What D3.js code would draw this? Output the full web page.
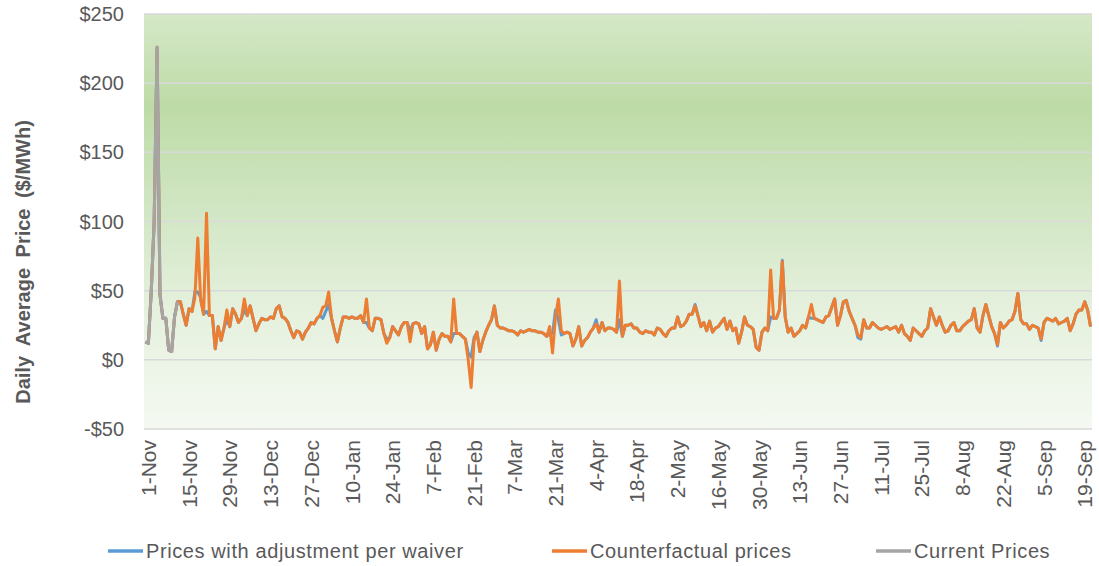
<!DOCTYPE html>
<html>
<head>
<meta charset="utf-8">
<script src="https://cdnjs.cloudflare.com/ajax/libs/d3/7.8.5/d3.min.js"></script>
<style>
  body { margin: 0; background: #fff; }
  svg text { font-family: "Liberation Sans", Arial, sans-serif; fill: #595959; }
</style>
</head>
<body>
<div id="chart"></div>
<script>
// daily categories: 1-Nov onwards, one per day
const startDate = new Date(2016, 10, 1);
const dayCount = 326;
const dates = d3.timeDay.range(startDate, d3.timeDay.offset(startDate, dayCount));

const counterfactual = [
  13, 12, 50, 100, 226, 47, 30, 30, 7, 6, 31, 42, 42, 33, 25, 37, 35, 45, 88, 43,
  33, 106, 32, 32, 8, 24, 14, 23, 36, 24, 37, 33, 27, 30, 44, 32, 39, 30, 21, 26,
  30, 29, 29, 31, 30, 37, 39, 31, 30, 27, 21, 16, 21, 20, 15, 20, 23, 27, 26, 30,
  32, 38, 39, 49, 30, 21, 13, 23, 31, 31, 30, 31, 30, 30, 32, 27, 44, 23, 21, 30,
  30, 29, 19, 12, 16, 24, 21, 18, 24, 27, 27, 13, 26, 27, 26, 19, 24, 8, 11, 20,
  7, 15, 19, 17, 17, 13, 44, 19, 19, 17, 15, 0, -20, 14, 20, 6, 14, 20, 25, 29,
  39, 25, 23, 23, 22, 21, 21, 20, 18, 21, 20, 21, 22, 21, 21, 20, 20, 19, 17, 24,
  5, 31, 44, 21, 19, 20, 19, 10, 15, 24, 10, 14, 16, 20, 23, 26, 20, 27, 21, 23,
  23, 22, 20, 57, 17, 25, 25, 26, 23, 23, 20, 19, 21, 20, 20, 18, 23, 22, 19, 17,
  21, 23, 23, 31, 24, 25, 28, 33, 33, 39, 32, 24, 27, 21, 28, 20, 23, 24, 27, 30,
  22, 28, 21, 23, 12, 20, 31, 25, 24, 22, 9, 7, 20, 23, 21, 65, 30, 30, 36, 71,
  31, 20, 23, 17, 19, 21, 25, 23, 31, 40, 30, 29, 28, 27, 31, 32, 38, 44, 25, 32,
  42, 43, 35, 30, 25, 18, 16, 29, 23, 23, 27, 25, 23, 22, 23, 24, 22, 23, 24, 20,
  25, 19, 17, 14, 23, 21, 19, 17, 21, 23, 37, 31, 25, 31, 25, 20, 21, 25, 27, 21,
  21, 24, 26, 28, 29, 37, 23, 20, 32, 40, 32, 24, 19, 11, 27, 23, 25, 28, 29, 35,
  48, 29, 26, 26, 22, 25, 24, 23, 15, 27, 30, 29, 28, 30, 26, 27, 28, 30, 21, 26,
  33, 36, 36, 42, 36, 24
];

const adjusted = [
  13, 12, 50, 100, 226, 47, 30, 30, 7, 6, 31, 42, 42, 33, 25, 37, 35, 49, 49, 45,
  33, 35, 32, 32, 8, 24, 14, 23, 29, 24, 37, 33, 27, 30, 36, 32, 39, 30, 21, 26,
  30, 29, 29, 31, 30, 37, 39, 31, 30, 27, 21, 16, 21, 20, 15, 20, 23, 27, 26, 30,
  32, 30, 35, 40, 30, 21, 13, 23, 31, 31, 30, 31, 30, 30, 32, 27, 27, 23, 21, 30,
  30, 29, 19, 15, 16, 24, 21, 18, 24, 27, 27, 21, 26, 27, 26, 19, 24, 8, 11, 20,
  7, 15, 19, 17, 17, 13, 19, 19, 19, 17, 15, 5, 2, 16, 20, 6, 14, 20, 25, 29,
  39, 25, 23, 23, 22, 21, 21, 20, 18, 21, 20, 21, 22, 21, 21, 20, 20, 19, 17, 19,
  19, 36, 29, 18, 19, 20, 19, 10, 15, 24, 10, 14, 16, 20, 23, 29, 20, 27, 21, 23,
  23, 22, 20, 29, 17, 25, 25, 26, 23, 23, 20, 19, 21, 20, 20, 18, 23, 22, 19, 17,
  21, 23, 23, 31, 24, 25, 28, 33, 33, 40, 32, 24, 27, 21, 28, 20, 23, 24, 27, 30,
  22, 28, 21, 23, 12, 20, 31, 25, 24, 22, 9, 7, 20, 23, 21, 31, 30, 30, 36, 72,
  31, 20, 23, 17, 19, 21, 25, 23, 31, 30, 30, 29, 28, 27, 31, 32, 38, 44, 25, 32,
  42, 43, 35, 30, 25, 16, 15, 29, 23, 23, 27, 25, 23, 22, 23, 24, 22, 23, 24, 20,
  25, 19, 17, 14, 23, 21, 19, 17, 21, 23, 37, 31, 25, 31, 25, 20, 21, 25, 27, 21,
  21, 24, 26, 28, 29, 37, 23, 20, 32, 40, 32, 24, 19, 10, 27, 23, 25, 28, 29, 35,
  48, 29, 26, 26, 22, 25, 24, 23, 14, 27, 30, 29, 28, 30, 26, 27, 28, 30, 21, 26,
  33, 36, 36, 42, 36, 24
];

// current prices only cover the first days
const current = [13, 12, 50, 100, 226, 47, 30, 30, 7, 6, 31, 42];

const yTicks = [-50, 0, 50, 100, 150, 200, 250];

const series = [
  { name: 'Prices with adjustment per waiver', values: adjusted, color: '#5B9BD5' },
  { name: 'Counterfactual prices', values: counterfactual, color: '#ED7D31' },
  { name: 'Current Prices', values: current, color: '#A5A5A5' }
];

const width = 1099, height = 566;
const margin = { top: 14, right: 7, bottom: 137, left: 144 };

const svg = d3.select('#chart')
  .append('svg')
  .attr('width', width)
  .attr('height', height);

const x = d3.scaleBand()
  .domain(dates)
  .range([margin.left, width - margin.right]);

const y = d3.scaleLinear()
  .domain([-50, 250])
  .range([height - margin.bottom, margin.top]);

const cx = d => x(d) + x.bandwidth() / 2;

// plot area background gradient
const grad = svg.append('defs').append('linearGradient')
  .attr('id', 'bg')
  .attr('x1', 0).attr('y1', 0).attr('x2', 0).attr('y2', 1);
[[0, '#d5e8c8'], [0.22, '#bddba6'], [0.45, '#cfe5c1'], [0.7, '#e4f0dc'], [1, '#f5f9f2']]
  .forEach(s => grad.append('stop').attr('offset', s[0]).attr('stop-color', s[1]));

svg.append('rect')
  .attr('x', margin.left)
  .attr('y', y(250))
  .attr('width', width - margin.right - margin.left)
  .attr('height', y(-50) - y(250))
  .attr('fill', 'url(#bg)');

// gridlines
svg.append('g')
  .selectAll('line')
  .data(yTicks)
  .join('line')
  .attr('x1', margin.left)
  .attr('x2', width - margin.right)
  .attr('y1', d => y(d))
  .attr('y2', d => y(d))
  .attr('stroke', '#d9d9d9')
  .attr('stroke-width', 1.5);

// y axis labels
svg.append('g')
  .selectAll('text')
  .data(yTicks)
  .join('text')
  .attr('x', 124)
  .attr('y', d => y(d))
  .attr('dy', '0.35em')
  .attr('text-anchor', 'end')
  .style('font-size', '20px')
  .text(d => d < 0 ? `-$${-d}` : `$${d}`);

svg.append('text')
  .attr('transform', 'translate(30,262) rotate(-90)')
  .attr('text-anchor', 'middle')
  .style('font-size', '20px')
  .style('font-weight', 'bold')
  .style('word-spacing', '5px')
  .text('Daily Average Price ($/MWh)');

// x axis labels, every 14 days
const fmt = d3.timeFormat('%-d-%b');
svg.append('g')
  .selectAll('text')
  .data(dates.filter((d, i) => i % 14 === 0))
  .join('text')
  .attr('transform', d => `translate(${cx(d)},${y(-50) + 11}) rotate(-90)`)
  .attr('dy', '0.5em')
  .attr('text-anchor', 'end')
  .style('font-size', '21px')
  .text(fmt);

// lines
const line = d3.line()
  .x((v, i) => cx(dates[i]))
  .y(v => y(v));

svg.append('g')
  .selectAll('path')
  .data(series)
  .join('path')
  .attr('d', s => line(s.values))
  .attr('fill', 'none')
  .attr('stroke', s => s.color)
  .attr('stroke-width', 3)
  .attr('stroke-linejoin', 'round');

// legend
const legendX = [108, 552, 876];
const legend = svg.append('g')
  .selectAll('g')
  .data(series)
  .join('g')
  .attr('transform', (s, i) => `translate(${legendX[i]},551)`);

legend.append('line')
  .attr('x1', 0).attr('x2', 35)
  .attr('stroke', s => s.color)
  .attr('stroke-width', 3.5);

legend.append('text')
  .attr('x', 38)
  .attr('dy', '0.35em')
  .style('font-size', '20px')
  .style('letter-spacing', '0.6px')
  .text(s => s.name);
</script>
</body>
</html>
